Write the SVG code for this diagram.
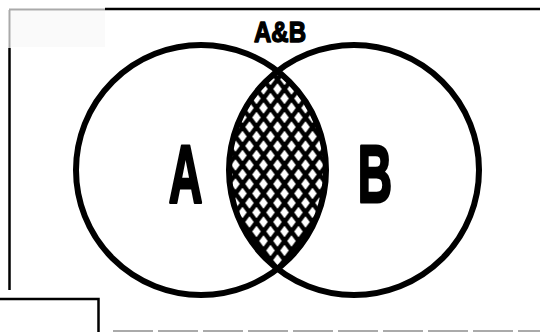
<svg xmlns="http://www.w3.org/2000/svg" width="540" height="332" viewBox="0 0 540 332">
<style>
.ring{fill:none;stroke:#000;stroke-width:6}
.lbl{font-family:"Liberation Sans",Arial,sans-serif;font-weight:bold;fill:#000;stroke:#000;stroke-linejoin:round;text-anchor:middle}
.frame{fill:none;stroke:#000;stroke-width:2.5}
.faint{fill:none;stroke:#aaa;stroke-width:2}
</style>
<defs>
<pattern id="hatch" patternUnits="userSpaceOnUse" x="270.5" y="70" width="14" height="19">
<g stroke="#000" stroke-width="4.4" fill="none">
<path d="M-14 -19L28 38M0 -19L28 19M-14 0L14 38"/>
<path d="M28 -19L-14 38M14 -19L-14 19M28 0L0 38"/>
</g>
</pattern>
</defs>
<rect width="540" height="332" fill="#fff"/>
<g id="frame">
<rect x="11" y="11" width="94" height="36" fill="#fafafa"/>
<path class="faint" d="M9 9.5H105M9.5 10V48"/>
<path class="frame" d="M105 9H540M9.5 48V290M0 299H98.5V332"/>
<path class="faint" d="M113 331H540" stroke="#c4c4c4" stroke-dasharray="40 5"/>
</g>
<g id="intersection">
<path d="M277.5 71.1A125 125 0 0 1 277.5 268.9A125 125 0 0 1 277.5 71.1Z" fill="url(#hatch)"/>
<text class="lbl" font-size="30" stroke-width="1.5" transform="translate(280,42) scale(0.8,1)">A&amp;B</text>
</g>
<g id="setA">
<circle class="ring" cx="201" cy="170" r="125"/>
<text class="lbl" font-size="82" stroke-width="3" transform="translate(185.5,202) scale(0.57,1)">A</text>
</g>
<g id="setB">
<circle class="ring" cx="354" cy="170" r="125"/>
<text class="lbl" font-size="82" stroke-width="3" transform="translate(375,202) scale(0.58,1)">B</text>
</g>
<g id="connectors"/>
</svg>
